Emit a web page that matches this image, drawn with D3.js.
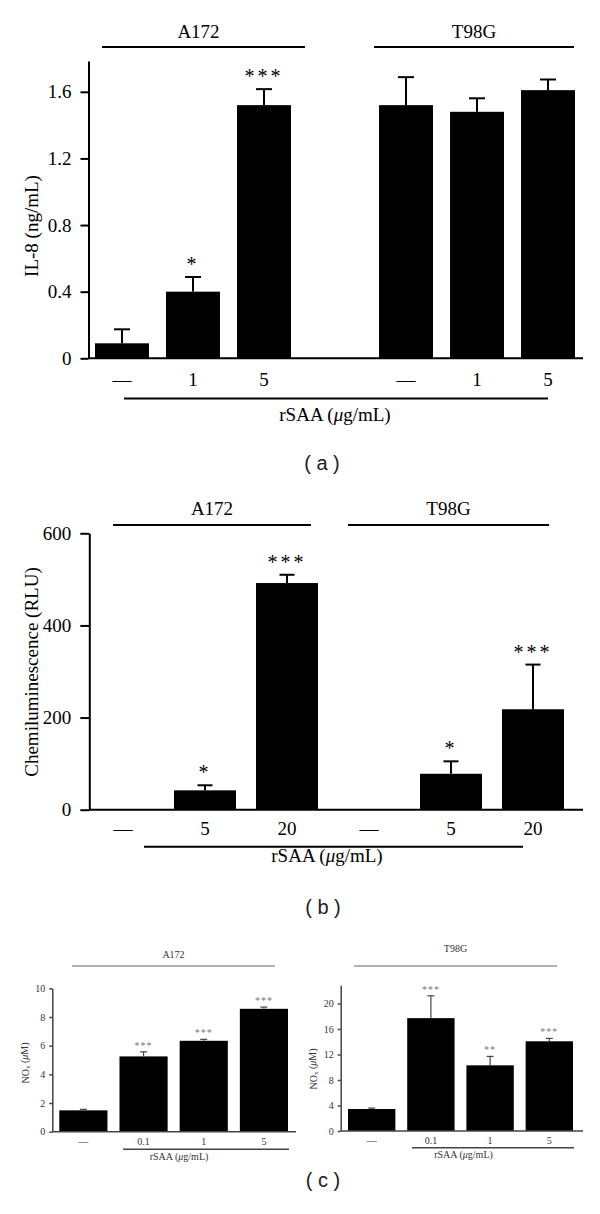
<!DOCTYPE html>
<html><head><meta charset="utf-8">
<script src="https://cdn.jsdelivr.net/npm/d3@7"></script>
<style>body{margin:0;background:#fff}svg{display:block}
.serif{font-family:"Liberation Serif","Times New Roman",Times,serif}
.sans{font-family:"Liberation Sans",Arial,Helvetica,sans-serif}</style>
</head><body><svg id="chart" width="600" height="1214"></svg>
<script>
// ---------- Panel (a): IL-8 ----------
const aCategories = ["A172 —","A172 1","A172 5","gap","T98G —","T98G 1","T98G 5"];
const aTickLabels = ["—","1","5","","—","1","5"];
const aValues = [0.09,0.40,1.52,null,1.52,1.48,1.61];
const aErrors = [0.084,0.088,0.096,null,0.168,0.081,0.064];
const aStars = ["","*","***","","","",""];
const aYTicks = [0,0.4,0.8,1.2,1.6];
const aGroups = ["A172","T98G"];

// ---------- Panel (b): Chemiluminescence ----------
const bCategories = ["A172 —","A172 5","A172 20","T98G —","T98G 5","T98G 20"];
const bTickLabels = ["—","5","20","—","5","20"];
const bValues = [0,42,492,0,78,218];
const bErrors = [0,11,18,0,27,97];
const bStars = ["","*","***","","*","***"];
const bYTicks = [0,200,400,600];
const bGroups = ["A172","T98G"];

// ---------- Panel (c): NOx ----------
const cCategories = ["—","0.1","1","5"];
const cLeftValues = [1.49,5.25,6.34,8.57];
const cLeftErrors = [0.07,0.32,0.10,0.12];
const cLeftStars = ["","***","***","***"];
const cLeftYTicks = [0,2,4,6,8,10];
const cRightValues = [3.45,17.7,10.3,14.07];
const cRightErrors = [0.15,3.5,1.4,0.45];
const cRightStars = ["","***","**","***"];
const cRightYTicks = [0,4,8,12,16,20];

const svg = d3.select("#chart");

function drawPanel(o) {
  const g = svg.append("g");
  const x = d3.scaleBand().domain(o.categories).range(o.xRange).paddingInner(o.pad).paddingOuter(0);
  const y = d3.scaleLinear().domain(o.yDomain).range(o.yRange);
  const bw = x.bandwidth();
  const data = o.categories.map((c,i)=>({c, v:o.values[i], e:o.errors[i], s:o.stars[i], l:o.tickLabels[i]}))
    .filter(d=>d.v!=null);

  g.selectAll("rect.bar").data(data.filter(d=>d.v>0)).join("rect")
    .attr("x", d=>x(d.c)).attr("y", d=>y(d.v))
    .attr("width", bw).attr("height", d=>y(0)-y(d.v))
    .attr("fill", "#000");
  const eb = data.filter(d=>d.v>0 && d.e>0);
  g.selectAll("line.err").data(eb).join("line")
    .attr("x1", d=>x(d.c)+bw/2).attr("x2", d=>x(d.c)+bw/2)
    .attr("y1", d=>y(d.v)).attr("y2", d=>y(d.v+d.e))
    .attr("stroke", o.axisColor).attr("stroke-width", o.errW);
  g.selectAll("line.cap").data(eb).join("line")
    .attr("x1", d=>x(d.c)+bw/2-o.capW/2).attr("x2", d=>x(d.c)+bw/2+o.capW/2)
    .attr("y1", d=>y(d.v+d.e)).attr("y2", d=>y(d.v+d.e))
    .attr("stroke", o.axisColor).attr("stroke-width", o.errW);
  g.selectAll("text.star").data(data.filter(d=>d.s)).join("text")
    .attr("class","serif")
    .attr("x", d=>x(d.c)+bw/2).attr("y", d=>y(d.v+(d.e||0))-o.starGap)
    .attr("text-anchor","middle")
    .attr("font-size", o.starSize).attr("letter-spacing", o.starSpacing)
    .attr("fill", o.starColor).text(d=>d.s);

  const ya = d3.axisLeft(y).tickValues(o.yTicks).tickSize(o.tickLen).tickSizeOuter(0)
    .tickPadding(o.tickPad).tickFormat(d3.format(o.fmt));
  const yg = g.append("g").attr("transform", `translate(${o.axisX},0)`).call(ya);
  yg.attr("font-family", null).attr("font-size", null);
  yg.select(".domain").attr("stroke", o.axisColor).attr("stroke-width", o.axisW);
  yg.selectAll(".tick line").attr("stroke", o.axisColor).attr("stroke-width", o.axisW);
  yg.selectAll(".tick text").attr("class","serif").attr("font-size", o.fontSize).attr("fill", o.textColor);

  g.append("line").attr("x1", o.axisX).attr("x2", o.axisX2).attr("y1", y(0)).attr("y2", y(0))
    .attr("stroke", o.axisColor).attr("stroke-width", o.axisW);
  g.selectAll("text.xl").data(data).join("text")
    .attr("class","serif")
    .attr("x", d=>x(d.c)+bw/2).attr("y", y(0)+o.xLabelDy)
    .attr("text-anchor","middle").attr("font-size", o.fontSize)
    .attr("fill", o.textColor).text(d=>d.l);

  const yl = g.append("text").attr("class","serif")
    .attr("transform", `translate(${o.yLabelX},${o.yLabelY}) rotate(-90)`)
    .attr("text-anchor","middle").attr("dy","0.35em")
    .attr("font-size", o.yLabelSize).attr("fill", o.textColor);
  o.yLabel(yl);

  (o.headers||[]).forEach(h=>{
    g.append("text").attr("class","serif").attr("x", (h.x1+h.x2)/2 + (h.dx||0)).attr("y", h.ty).attr("text-anchor","middle")
      .attr("font-size", o.headerSize).attr("fill", o.textColor).text(h.name);
    g.append("line").attr("x1", h.x1).attr("x2", h.x2).attr("y1", h.ly).attr("y2", h.ly)
      .attr("stroke", o.headerLineColor).attr("stroke-width", o.headerLineW);
  });

  const r = o.rsaa;
  g.append("line").attr("x1", r.x1).attr("x2", r.x2).attr("y1", r.ly).attr("y2", r.ly)
    .attr("stroke", o.axisColor).attr("stroke-width", o.headerLineW);
  const rt = g.append("text").attr("class","serif").attr("x", r.tx).attr("y", r.ty).attr("text-anchor","middle")
    .attr("font-size", o.rsaaSize).attr("fill", o.textColor);
  rt.append("tspan").text("rSAA (");
  rt.append("tspan").attr("font-style","italic").text("μ");
  rt.append("tspan").text("g/mL)");
  return {x, y};
}

function plainLabel(txt){ return sel => sel.text(txt); }
function noxLabel(sel){
  sel.append("tspan").text("NO");
  sel.append("tspan").attr("font-size","0.7em").attr("dy","0.25em").text("x");
  sel.append("tspan").attr("dy","-0.25em").text(" (");
  sel.append("tspan").attr("font-style","italic").text("μ");
  sel.append("tspan").text("M)");
}

drawPanel({
  categories:aCategories, tickLabels:aTickLabels, values:aValues, errors:aErrors, stars:aStars,
  yTicks:aYTicks, fmt:"", xRange:[95,575], pad:0.24,
  yDomain:[0,1.785], yRange:[358.3,61], axisX:88.5, axisX2:583,
  tickLen:8, tickPad:9, fontSize:19, axisW:2, axisColor:"#000", textColor:"#000",
  errW:2, capW:16, starGap:6, starSize:20, starSpacing:3, starColor:"#000",
  xLabelDy:28, yLabelX:31, yLabelY:226, yLabelSize:19, yLabel:plainLabel("IL-8 (ng/mL)"),
  headerSize:19, headerLineColor:"#000", headerLineW:2,
  headers:[{name:aGroups[0], x1:102, x2:305, ty:38, ly:47, dx:-5},{name:aGroups[1], x1:374, x2:574, ty:38, ly:47}],
  rsaa:{x1:124, x2:548, ly:398.5, tx:335, ty:421}, rsaaSize:19
});
svg.append("text").attr("class","sans").attr("x",322).attr("y",470).attr("text-anchor","middle")
  .attr("font-size",20).attr("fill","#222").attr("xml:space","preserve").text("( a )");

drawPanel({
  categories:bCategories, tickLabels:bTickLabels, values:bValues, errors:bErrors, stars:bStars,
  yTicks:bYTicks, fmt:"", xRange:[92,564], pad:0.244,
  yDomain:[0,600], yRange:[809.7,533.3], axisX:89.3, axisX2:583,
  tickLen:9, tickPad:9, fontSize:19, axisW:2, axisColor:"#000", textColor:"#000",
  errW:2, capW:15, starGap:6, starSize:20, starSpacing:3, starColor:"#000",
  xLabelDy:25, yLabelX:31, yLabelY:672, yLabelSize:19, yLabel:plainLabel("Chemiluminescence (RLU)"),
  headerSize:19, headerLineColor:"#000", headerLineW:2,
  headers:[{name:bGroups[0], x1:113, x2:311, ty:515, ly:525},{name:bGroups[1], x1:348, x2:549, ty:515, ly:525}],
  rsaa:{x1:144, x2:523, ly:846.7, tx:327, ty:861.5}, rsaaSize:19
});
svg.append("text").attr("class","sans").attr("x",323).attr("y",913.5).attr("text-anchor","middle")
  .attr("font-size",20).attr("fill","#222").attr("xml:space","preserve").text("( b )");

drawPanel({
  categories:cCategories, tickLabels:cCategories, values:cLeftValues, errors:cLeftErrors, stars:cLeftStars,
  yTicks:cLeftYTicks, fmt:"", xRange:[59.3,288], pad:0.2,
  yDomain:[0,10], yRange:[1131.7,988.3], axisX:52.3, axisX2:296,
  tickLen:3, tickPad:4, fontSize:10, axisW:1.5, axisColor:"#444", textColor:"#333",
  errW:1.2, capW:7, starGap:3, starSize:10, starSpacing:1, starColor:"#777",
  xLabelDy:13, yLabelX:25, yLabelY:1063, yLabelSize:10, yLabel:noxLabel,
  headerSize:10, headerLineColor:"#999", headerLineW:1.5,
  headers:[{name:"A172", x1:72, x2:275, ty:957.5, ly:966}],
  rsaa:{x1:123, x2:289, ly:1149.3, tx:179, ty:1160}, rsaaSize:10
});
drawPanel({
  categories:cCategories, tickLabels:cCategories, values:cRightValues, errors:cRightErrors, stars:cRightStars,
  yTicks:cRightYTicks, fmt:"", xRange:[348,573], pad:0.2,
  yDomain:[0,22.85], yRange:[1131,985.3], axisX:340.7, axisX2:583,
  tickLen:3, tickPad:4, fontSize:10, axisW:1.5, axisColor:"#444", textColor:"#333",
  errW:1.2, capW:7, starGap:3, starSize:10, starSpacing:1, starColor:"#777",
  xLabelDy:13, yLabelX:313, yLabelY:1069, yLabelSize:10, yLabel:noxLabel,
  headers:[{name:"T98G", x1:354, x2:557, ty:952, ly:966}],
  headerSize:10, headerLineColor:"#999", headerLineW:1.5,
  rsaa:{x1:412, x2:574, ly:1147.7, tx:463.5, ty:1158}, rsaaSize:10
});
svg.append("text").attr("class","sans").attr("x",323).attr("y",1187).attr("text-anchor","middle")
  .attr("font-size",20).attr("fill","#222").attr("xml:space","preserve").text("( c )");
</script></body></html>
